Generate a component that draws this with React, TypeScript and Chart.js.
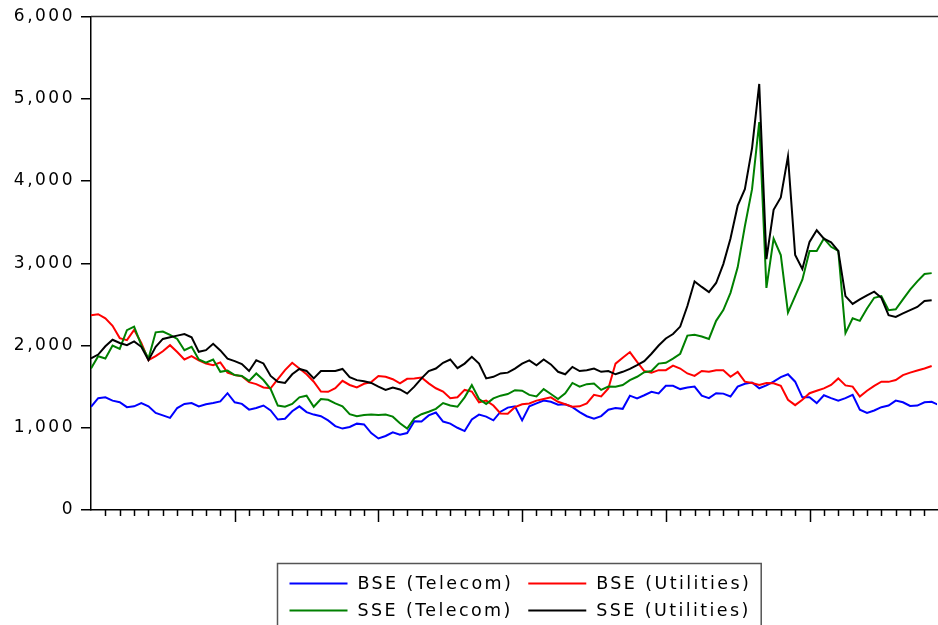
import React, { useEffect, useRef } from "react";
import { Chart, registerables } from "chart.js";

Chart.register(...registerables);

const seriesNames = ["BSE (Telecom)", "BSE (Utilities)", "SSE (Telecom)", "SSE (Utilities)"];
const seriesColors = ["#0000FF", "#FF0000", "#008000", "#000000"];

// x positions in minor-tick periods (half-period sampling)
const periods: number[] = [];
for (let k = 0; k <= 118; k++) periods.push(k / 2);

const minorTicks: number[] = [];
for (let t = 1; t <= 58; t++) minorTicks.push(t);
const majorTicks = [10, 20, 30, 40, 50];
const yTicks = [0, 1000, 2000, 3000, 4000, 5000, 6000];

const bseTelecom = [
  1255, 1360, 1370, 1330, 1310, 1250, 1260, 1300, 1260, 1180,
  1150, 1120, 1240, 1290, 1300, 1260, 1285, 1300, 1320, 1420,
  1310, 1290, 1220, 1240, 1270, 1210, 1100, 1110, 1200, 1260,
  1190, 1160, 1140, 1090, 1020, 990, 1010, 1050, 1040, 935,
  870, 900, 945, 915, 935, 1080, 1075, 1150, 1185, 1075,
  1050, 1000, 960, 1100, 1160, 1135, 1090, 1195, 1245, 1260,
  1090, 1260, 1296, 1330, 1316, 1280, 1285, 1250, 1190, 1140,
  1110, 1142, 1220, 1240, 1230, 1390, 1357, 1395, 1437, 1417,
  1510, 1510, 1470, 1490, 1500, 1390, 1360, 1420, 1415, 1380,
  1500, 1535, 1550, 1480, 1515, 1560, 1615, 1650, 1560, 1370,
  1370, 1300, 1395, 1360, 1330, 1360, 1400, 1220, 1180, 1210,
  1250, 1270, 1330, 1310, 1265, 1270, 1310, 1316, 1275,
];

const bseUtilities = [
  2368, 2380, 2330, 2240, 2090, 2065, 2190, 2030, 1822, 1870,
  1930, 2004, 1920, 1830, 1870, 1820, 1780, 1760, 1795, 1670,
  1640, 1625, 1555, 1530, 1490, 1480, 1590, 1700, 1790, 1720,
  1650, 1560, 1440, 1437, 1480, 1570, 1520, 1490, 1535, 1555,
  1630, 1620, 1590, 1539, 1595, 1600, 1610, 1540, 1480, 1440,
  1360, 1370, 1460, 1440, 1310, 1330, 1270, 1174, 1170, 1250,
  1285, 1296, 1330, 1350, 1370, 1316, 1285, 1255, 1260, 1296,
  1400, 1380, 1478, 1780, 1850, 1920, 1800, 1690, 1670, 1700,
  1700, 1755, 1720, 1660, 1630, 1690, 1680, 1700, 1700, 1620,
  1680, 1560, 1545, 1520, 1545, 1540, 1510, 1340, 1275, 1340,
  1420, 1450, 1478, 1520, 1600, 1515, 1500, 1380, 1450, 1510,
  1560, 1558, 1580, 1640, 1670, 1695, 1720, 1750,
];

const sseTelecom = [
  1721, 1870, 1842, 2000, 1960, 2186, 2230, 2004, 1842, 2160,
  2170, 2130, 2080, 1943, 1984, 1830, 1790, 1830, 1680, 1695,
  1640, 1630, 1570, 1660, 1580, 1470, 1270, 1255, 1290, 1370,
  1390, 1255, 1350, 1340, 1296, 1260, 1165, 1140, 1154, 1160,
  1154, 1160, 1135, 1055, 990, 1114, 1165, 1194, 1230, 1300,
  1270, 1255, 1370, 1518, 1350, 1290, 1357, 1390, 1410, 1457,
  1450, 1400, 1380, 1470, 1410, 1350, 1420, 1545, 1500, 1530,
  1539, 1460, 1500, 1498, 1520, 1579, 1620, 1675, 1690, 1780,
  1790, 1840, 1900, 2120, 2130, 2110, 2080, 2300, 2430, 2640,
  2950, 3450, 3900, 4716, 2700, 3300, 3100, 2400, 2600, 2800,
  3150, 3150, 3300, 3200, 3150, 2150, 2330, 2300, 2450, 2580,
  2600, 2430, 2440, 2560, 2680, 2780, 2870, 2880,
];

const sseUtilities = [
  1842, 1890, 1990, 2070, 2030, 2004, 2050, 1984, 1822, 1984,
  2080, 2100, 2120, 2140, 2100, 1923, 1943, 2020, 1940, 1840,
  1810, 1775, 1690, 1820, 1782, 1630, 1560, 1545, 1650, 1715,
  1690, 1600, 1690, 1690, 1690, 1715, 1615, 1579, 1565, 1545,
  1500, 1460, 1490, 1465, 1415, 1500, 1600, 1690, 1720, 1790,
  1830, 1725, 1780, 1862, 1780, 1600, 1619, 1660, 1670, 1720,
  1780, 1820, 1760, 1830, 1770, 1680, 1650, 1740, 1690, 1700,
  1720, 1680, 1690, 1650, 1680, 1715, 1760, 1810, 1900, 2000,
  2085, 2140, 2230, 2480, 2780, 2712, 2650, 2760, 2990, 3300,
  3700, 3900, 4400, 5180, 3050, 3650, 3800, 4300, 3100, 2930,
  3260, 3401, 3300, 3255, 3150, 2600, 2505, 2560, 2610, 2655,
  2580, 2368, 2348, 2390, 2430, 2469, 2540, 2550,
];

const seriesData = [bseTelecom, bseUtilities, sseTelecom, sseUtilities];
const drawOrder = [3, 2, 1, 0];

const FONT = "'DejaVu Sans', 'Liberation Sans', Arial, sans-serif";

const framePlugin = {
  id: "framePlugin",
  beforeDraw(chart: any) {
    chart.ctx.letterSpacing = "2.5px";
  },
  afterDraw(chart: any) {
    const { ctx, chartArea, scales } = chart;
    ctx.save();
    // top frame line
    ctx.strokeStyle = "#2a2a2a";
    ctx.lineWidth = 1.5;
    ctx.beginPath();
    ctx.moveTo(chartArea.left, chartArea.top);
    ctx.lineTo(chartArea.right + 1, chartArea.top);
    ctx.stroke();

    // x ticks: minor and major
    const xs = scales.x;
    ctx.strokeStyle = "#000";
    ctx.lineWidth = 1.5;
    for (const v of minorTicks) {
      const px = Math.round(xs.getPixelForValue(v)) + 0.5;
      const len = majorTicks.includes(v) ? 12 : 6;
      ctx.beginPath();
      ctx.moveTo(px, chartArea.bottom);
      ctx.lineTo(px, chartArea.bottom + len);
      ctx.stroke();
    }

    // legend
    ctx.font = `17.5px ${FONT}`;
    ctx.letterSpacing = "2.4px";
    ctx.textBaseline = "middle";
    ctx.textAlign = "left";
    const w1 = Math.max(ctx.measureText(seriesNames[0]).width, ctx.measureText(seriesNames[2]).width);
    const w2 = Math.max(ctx.measureText(seriesNames[1]).width, ctx.measureText(seriesNames[3]).width);
    const padL = 12, lineLen = 58, gap = 10, colGap = 15, padR = 10;
    const boxW = padL + lineLen + gap + w1 + colGap + lineLen + gap + w2 + padR;
    const cx = (chartArea.left + chartArea.right) / 2 + 5;
    const left = Math.round(cx - boxW / 2) + 0.5;
    const top = Math.round(chartArea.bottom + 53) + 0.5;
    ctx.strokeStyle = "#555";
    ctx.lineWidth = 1.5;
    ctx.strokeRect(left, top, boxW, 80);
    const rowsY = [top + 20, top + 47];
    const colX = [left + padL, left + padL + lineLen + gap + w1 + colGap];
    for (let i = 0; i < 4; i++) {
      const r = Math.floor(i / 2);
      const c = i % 2;
      const y = rowsY[r];
      const x = colX[c];
      ctx.strokeStyle = seriesColors[i];
      ctx.lineWidth = 2;
      ctx.beginPath();
      ctx.moveTo(x, y);
      ctx.lineTo(x + lineLen, y);
      ctx.stroke();
      ctx.fillStyle = "#000";
      ctx.fillText(seriesNames[i], x + lineLen + gap, y + 1);
    }
    ctx.restore();
    ctx.letterSpacing = "0px";
  },
};

export default function App() {
  const ref = useRef<HTMLCanvasElement | null>(null);
  useEffect(() => {
    document.body.style.margin = "0";
    const canvas = ref.current;
    if (!canvas) return;
    const chart = new Chart(canvas, {
      type: "line",
      data: {
        labels: periods,
        datasets: seriesData.map((d, i) => ({
          label: seriesNames[i],
          data: d,
          borderColor: seriesColors[i],
          backgroundColor: seriesColors[i],
          borderWidth: 2,
          pointRadius: 0,
          tension: 0,
          fill: false,
          order: drawOrder[i],
        })),
      },
      options: {
        responsive: false,
        animation: false,
        devicePixelRatio: 1,
        layout: { padding: { top: 16.5, right: 1, left: 0, bottom: 0 } },
        plugins: {
          legend: { display: false },
          tooltip: { enabled: false },
        },
        scales: {
          x: {
            type: "linear",
            min: 0,
            max: 58.87,
            afterBuildTicks: (s: any) => {
              s.ticks = minorTicks.map((v) => ({ value: v }));
            },
            ticks: { display: false },
            grid: {
              drawOnChartArea: false,
              drawTicks: false,
            },
            border: { display: true, color: "#000", width: 1.5 },
            afterFit: (s: any) => {
              s.height = 115;
            },
          },
          y: {
            min: 0,
            max: 6000,
            afterBuildTicks: (s: any) => {
              s.ticks = yTicks.map((v) => ({ value: v }));
            },
            ticks: {
              color: "#000",
              padding: 6,
              font: { family: FONT, size: 17 },
              callback: (v: any) => Number(v).toLocaleString("en-US"),
            },
            grid: {
              drawOnChartArea: false,
              drawTicks: true,
              tickLength: 10,
              lineWidth: 1.5,
              color: "#000",
            },
            border: { display: true, color: "#000", width: 1.5 },
            afterFit: (s: any) => {
              s.width = 91;
            },
          },
        },
      },
      plugins: [framePlugin],
    });
    return () => chart.destroy();
  }, []);
  return <canvas ref={ref} width={938} height={625} style={{ display: "block" }} />;
}
